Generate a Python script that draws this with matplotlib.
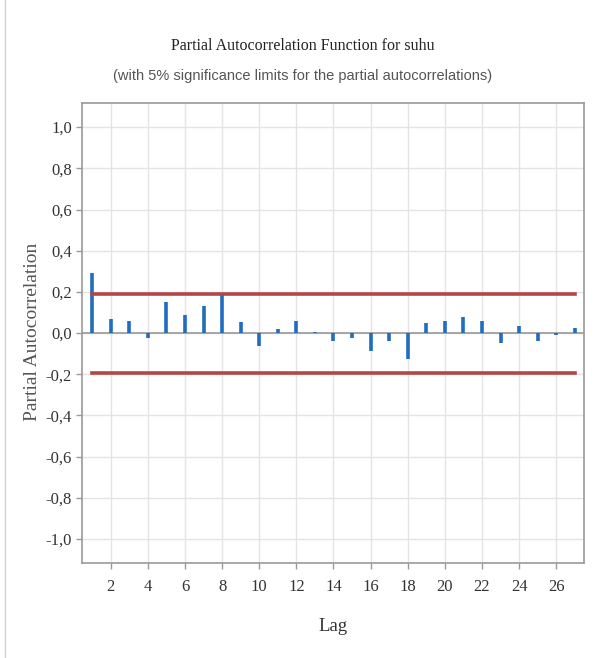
import matplotlib
matplotlib.use("Agg")
import matplotlib.pyplot as plt
import numpy as np
from matplotlib.ticker import FuncFormatter

# PACF values
lags = np.arange(1, 28)
pacf = [0.293, 0.067, 0.057, -0.024, 0.151, 0.086, 0.132, 0.184, 0.054, -0.062,
        0.020, 0.060, 0.003, -0.039, -0.023, -0.085, -0.040, -0.128, 0.050, 0.057,
        0.076, 0.057, -0.050, 0.033, -0.040, -0.010, 0.023]
limit = 0.192

xticks = np.arange(2, 28, 2)
yticks = np.round(np.arange(-1.0, 1.01, 0.2), 1)

fig = plt.figure(figsize=(6.06, 6.58), dpi=100)
ax = fig.add_axes([0.1358, 0.1448, 0.828, 0.698])

ax.vlines(lags, 0, pacf, color="#1f6cc0", lw=2.6, zorder=3)
ax.axhline(0, color="#9a9a9a", lw=1.2, zorder=2)
ax.plot([lags[0], lags[-1]], [limit, limit], color="#b2474a", lw=2.6, zorder=3)
ax.plot([lags[0], lags[-1]], [-limit, -limit], color="#b2474a", lw=2.6, zorder=3)

ax.set_xlim(0.47, 27.5)
ax.set_ylim(-1.115, 1.115)
ax.set_xticks(xticks)
ax.set_yticks(yticks)
ax.yaxis.set_major_formatter(FuncFormatter(lambda v, p: f"{v:.1f}".replace(".", ",").replace("-0,0", "0,0")))
ax.grid(True, color="#e4e4e4", lw=1)
ax.set_axisbelow(True)

for s in ax.spines.values():
    s.set_color("#9a9a9a")
    s.set_linewidth(1.2)
ax.tick_params(colors="#9a9a9a", length=4, width=1, labelcolor="#333333")
ax.tick_params(axis="x", pad=8)
for lab in ax.get_xticklabels() + ax.get_yticklabels():
    lab.set_fontfamily("Liberation Serif")
    lab.set_fontsize(12)

ax.set_xlabel("Lag", family="Liberation Serif", fontsize=13.5, color="#333333", labelpad=16)
fig.text(33 / 606, 0.495, "Partial Autocorrelation", rotation=90, ha="center", va="center",
         family="Liberation Serif", fontsize=14, color="#555555")

fig.text(0.5, 0.930, "Partial Autocorrelation Function for suhu", ha="center", va="center",
         family="Liberation Serif", fontsize=11.5, color="#222222")
fig.text(0.5, 0.885, "(with 5% significance limits for the partial autocorrelations)",
         ha="center", va="center", family="Liberation Sans",
         fontsize=10.5, color="#555555")

fig.add_artist(plt.Line2D([0.009, 0.009], [0.0, 1.0], color="#d0d0d0", lw=1, transform=fig.transFigure))

fig.savefig("out.png", dpi=100)
